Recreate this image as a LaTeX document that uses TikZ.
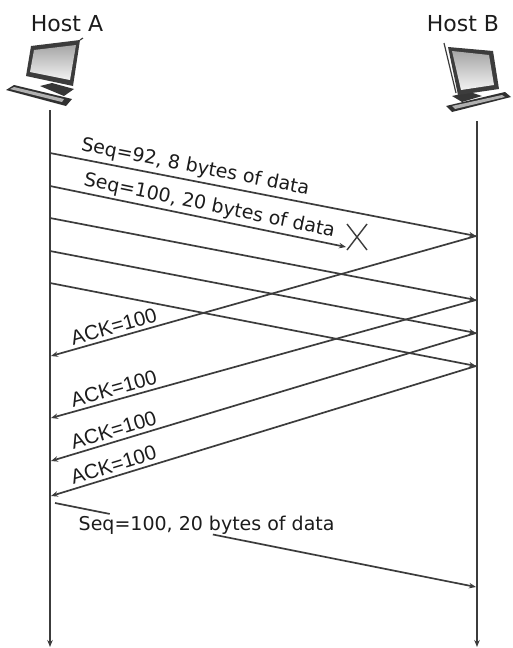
\documentclass[tikz,border=0pt]{standalone}
\usepackage{fontspec}
\setmainfont{DejaVu Sans}
\newfontfamily\ackfont{Liberation Sans}
\usetikzlibrary{arrows.meta,calc}
\definecolor{ln}{HTML}{3C3C3C}
\definecolor{tx}{HTML}{1C1C1C}
\begin{document}
\begin{tikzpicture}[x=1pt,y=-1pt,
  lifeline/.style={draw=ln,line width=1.7pt,-{Stealth[length=7pt,width=5.5pt]}},
  msg/.style={draw=ln,line width=1.7pt,-{Stealth[length=7pt,width=5.5pt]}},
  plain/.style={draw=ln,line width=1.7pt},
  seqlbl/.style={text=tx,font=\fontsize{19}{21}\selectfont,inner sep=0.5pt},
  acklbl/.style={text=tx,font=\ackfont\fontsize{20.5}{22}\selectfont,inner sep=0.5pt},
  hostlbl/.style={text=tx,font=\fontsize{22}{25}\selectfont,inner sep=0pt}]
\useasboundingbox (0,0) rectangle (512,648);
\fill[white] (0,0) rectangle (512,648);

% host labels
\node[hostlbl] (hA) at (67,24) {Host A};
\node[hostlbl] (hB) at (463,24) {Host B};

% icon A
\begin{scope}
 \fill[ln!80!black] (6,90) -- (14,85) -- (72,99) -- (66,106) -- cycle;
 \fill[ln!40] (10,89) -- (14,87) -- (64,99) -- (62,102) -- cycle;
 \fill[ln!90!black] (40,86) -- (52,83) -- (74,89) -- (64,96) -- cycle;
 \fill[ln] (31,46) -- (80,40) -- (73,86) -- (26,76) -- cycle;
 \shade[top color=gray!70,bottom color=gray!10] (34,50) -- (76,45) -- (70,80) -- (30,72) -- cycle;
 \draw[ln,line width=1.2pt] (80,40) -- (83,38);
\end{scope}
% icon B
\begin{scope}
 \fill[ln!80!black] (446,106) -- (505,92) -- (511,97) -- (452,112) -- cycle;
 \fill[ln!40] (452,106) -- (502,95) -- (505,97) -- (455,109) -- cycle;
 \fill[ln!90!black] (452,96) -- (470,92) -- (482,96) -- (462,102) -- cycle;
 \fill[ln] (448,47) -- (493,51) -- (499,89) -- (458,95) -- cycle;
 \shade[top color=gray!70,bottom color=gray!10] (452,51) -- (489,55) -- (494,85) -- (461,90) -- cycle;
 \draw[ln,line width=1.2pt] (444,43) -- (456,93);
\end{scope}

% lifelines
\coordinate (a0) at (50,110);
\coordinate (aE) at (50,647);
\coordinate (b0) at (477,121);
\coordinate (bE) at (477,647);
\draw[lifeline] (a0) -- (aE);
\draw[lifeline] (b0) -- (bE);

% points on A
\coordinate (a1) at (50,153);
\coordinate (a2) at (50,186);
\coordinate (a3) at (50,218);
\coordinate (a4) at (50,251);
\coordinate (a5) at (50,283);
\coordinate (k1) at (51,356);
\coordinate (k2) at (51,418);
\coordinate (k3) at (51,461);
\coordinate (k4) at (51,496);
\coordinate (ar) at (55,503);
% points on B
\coordinate (b1) at (476,236);
\coordinate (b3) at (476,300);
\coordinate (b4) at (476,333);
\coordinate (b5) at (476,366);
\coordinate (br) at (476,587);
% lost segment
\coordinate (lostend) at (346,247);
\coordinate (lost) at (357,237);

% data segments
\draw[msg] (a1) -- node[seqlbl,sloped,above=3pt,pos=0.335]{Seq=92, 8 bytes of data} (b1);
\draw[msg] (a2) -- node[seqlbl,sloped,above=2pt,pos=0.53]{Seq=100, 20 bytes of data} (lostend);
\draw[ln,line width=1.4pt] ($(lost)+(-10,-13)$) -- ($(lost)+(10,13)$)
                           ($(lost)+(10,-13)$) -- ($(lost)+(-10,13)$);
\draw[msg] (a3) -- (b3);
\draw[msg] (a4) -- (b4);
\draw[msg] (a5) -- (b5);

% acks
\draw[msg] (b1) -- node[acklbl,sloped,above=3pt,pos=0.845]{ACK=100} (k1);
\draw[msg] (b3) -- node[acklbl,sloped,above=3pt,pos=0.845]{ACK=100} (k2);
\draw[msg] (b4) -- node[acklbl,sloped,above=3pt,pos=0.845]{ACK=100} (k3);
\draw[msg] (b5) -- node[acklbl,sloped,above=3pt,pos=0.845]{ACK=100} (k4);

% retransmission
\coordinate (c1) at ($(ar)!0.13!(br)$);
\coordinate (c2) at ($(ar)!0.375!(br)$);
\draw[plain] (ar) -- (c1);
\draw[msg] (c2) -- (br);
\node[seqlbl,anchor=base west] (rs) at (78,530) {Seq=100, 20 bytes of data};
\end{tikzpicture}
\end{document}
